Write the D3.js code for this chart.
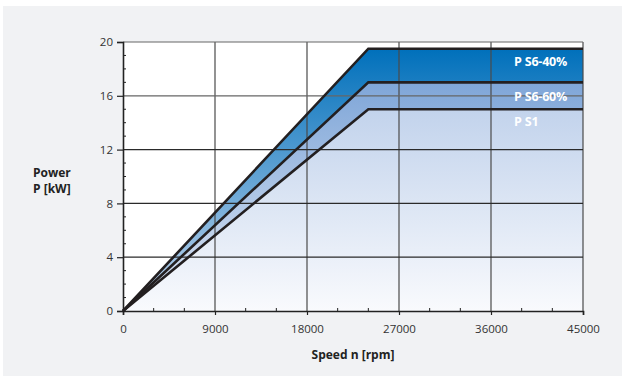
<!DOCTYPE html>
<html><head><meta charset="utf-8">
<script src="https://cdn.jsdelivr.net/npm/d3@7"></script>
<style>body{margin:0;background:#fff}svg{display:block}text{font-family:"Open Sans","Noto Sans",sans-serif}</style>
</head><body>
<svg id="c" width="622" height="376"></svg>
<script>
const speedKnots = [0, 24000, 45000];
const seriesNames = ["P S6-40%", "P S6-60%", "P S1"];
const s640 = [0, 19.5, 19.5];
const s660 = [0, 17, 17];
const s1 = [0, 15, 15];
const xTicks = [0, 9000, 18000, 27000, 36000, 45000];
const yTicks = [0, 4, 8, 12, 16, 20];

const svg = d3.select("#c");
svg.append("rect").attr("x",3).attr("y",6).attr("width",619).attr("height",370).attr("fill","#f1f2f4");

const x = d3.scaleLinear().domain([0,45000]).range([123,583]);
const y = d3.scaleLinear().domain([0,20]).range([311,42]);

const defs = svg.append("defs");
function grad(id, top, c1, c2){
  const g = defs.append("linearGradient").attr("id",id).attr("gradientUnits","userSpaceOnUse")
    .attr("x1",0).attr("x2",0).attr("y1",y(top)).attr("y2",y(0));
  g.append("stop").attr("offset",0).attr("stop-color",c1);
  g.append("stop").attr("offset",1).attr("stop-color",c2);
}
grad("g1",19.5,"#0070bb","#c8d8ee");
grad("g2",17,"#7fa6d8","#dfe7f4");
grad("g3",15,"#c2d3ec","#f9fafd");

svg.append("rect").attr("x",x(0)).attr("y",y(20)).attr("width",x(45000)-x(0)).attr("height",y(0)-y(20)).attr("fill","#fff");

const pts = arr => speedKnots.map((s,i)=>[s,arr[i]]);
const band = (upper, lower) => d3.area().x(d=>x(d[0])).y0((d,i)=>y(lower[i])).y1(d=>y(d[1]))(pts(upper));
svg.append("path").attr("d",band(s640,s660)).attr("fill","url(#g1)");
svg.append("path").attr("d",band(s660,s1)).attr("fill","url(#g2)");
svg.append("path").attr("d",band(s1,[0,0,0])).attr("fill","url(#g3)");

// grid
const grid = svg.append("g");
xTicks.slice(1).forEach(t=>grid.append("line").attr("x1",x(t)).attr("x2",x(t)).attr("y1",y(20)).attr("y2",y(0)).attr("stroke","#4a4a4a").attr("stroke-width",1.2));
yTicks.slice(1).forEach(t=>grid.append("line").attr("x1",x(0)).attr("x2",x(45000)).attr("y1",y(t)).attr("y2",y(t)).attr("stroke",t>=16?"#666":"#2a2a2a").attr("stroke-width",1.2));

// minor ticks
d3.range(0,45001,3000).filter(v=>v%9000).forEach(v=>svg.append("line").attr("x1",x(v)).attr("x2",x(v)).attr("y1",y(0)).attr("y2",y(0)-3).attr("stroke","#222").attr("stroke-width",1));
d3.range(0,21,1).filter(v=>v%4).forEach(v=>svg.append("line").attr("x1",x(0)).attr("x2",x(0)+3).attr("y1",y(v)).attr("y2",y(v)).attr("stroke","#222").attr("stroke-width",1));

// axes
const xa = svg.append("g").attr("transform",`translate(0,${y(0)})`).call(d3.axisBottom(x).tickValues(xTicks).tickSize(4).tickPadding(10).tickFormat(d3.format("d")));
const ya = svg.append("g").attr("transform",`translate(${x(0)},0)`).call(d3.axisLeft(y).tickValues(yTicks).tickSize(6).tickPadding(4));
[xa,ya].forEach(a=>{a.select(".domain").attr("stroke","#222").attr("stroke-width",1.6);
  a.selectAll(".tick line").attr("stroke","#222").attr("stroke-width",1.2);
  a.selectAll("text").attr("fill","#333").attr("font-size",11.5).attr("font-family","'Open Sans',sans-serif");});

// curves
const line = d3.line().x(d=>x(d[0])).y(d=>y(d[1]));
[s640,s660,s1].forEach(s=>svg.append("path").attr("d",line(pts(s))).attr("fill","none").attr("stroke","#231f20").attr("stroke-width",2.6).attr("stroke-linejoin","miter"));

// series labels
[[s640,seriesNames[0],17],[s660,seriesNames[1],18.5],[s1,seriesNames[2],17]].forEach(([s,n,dy])=>
  svg.append("text").attr("x",514).attr("y",y(s[2])+dy).text(n).attr("fill","#fff").attr("font-size",12.5).attr("font-weight","bold").attr("letter-spacing",-0.2));

// axis titles
svg.append("text").attr("x",33).attr("y",177).text("Power").attr("font-size",12).attr("font-weight","bold").attr("fill","#222");
svg.append("text").attr("x",33).attr("y",193).text("P [kW]").attr("font-size",12).attr("font-weight","bold").attr("fill","#222");
svg.append("text").attr("x",353).attr("y",359).attr("text-anchor","middle").text("Speed n [rpm]").attr("font-size",12).attr("font-weight","bold").attr("fill","#222");
</script>
</body></html>
